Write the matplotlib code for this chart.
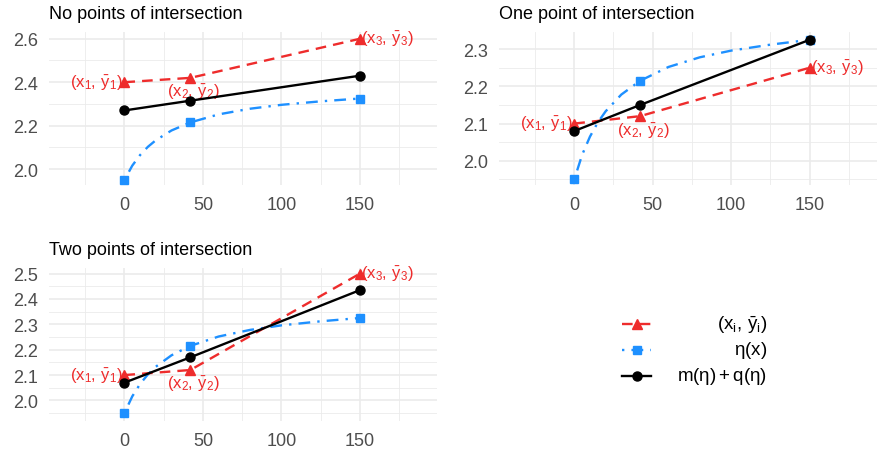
'''three panels: observed means vs eta(x) vs fitted m + q
'''
import matplotlib
matplotlib.use('Agg')
import matplotlib.pyplot as plt

plt.rcParams['font.family'] = ['Liberation Sans', 'DejaVu Sans']
plt.rcParams['mathtext.fontset'] = 'custom'
plt.rcParams['mathtext.rm'] = 'Liberation Sans'
plt.rcParams['mathtext.it'] = 'Liberation Sans'
plt.rcParams['mathtext.default'] = 'regular'

# data
x_obs = [0, 42, 150]
titles = ['No points of intersection', 'One point of intersection', 'Two points of intersection']
ybar = [[2.40, 2.42, 2.60], [2.10, 2.12, 2.25], [2.10, 2.12, 2.50]]
fit = [[2.27, 2.315, 2.43], [2.08, 2.15, 2.325], [2.07, 2.17, 2.435]]
eta_obs = [1.950, 2.215, 2.325]
eta_x = [0, 5, 10, 15, 20, 30, 42, 60, 80, 100, 125, 150]
eta_y = [1.950, 2.016, 2.065, 2.103, 2.133, 2.178, 2.215, 2.252, 2.278, 2.296, 2.312, 2.325]
point_labels = [r'$(x_1,\,\bar{y}_1)$', r'$(x_2,\,\bar{y}_2)$', r'$(x_3,\,\bar{y}_3)$']
legend_labels = [r'$(x_i,\,\bar{y}_i)$', r'$\eta(x)$', r'$m(\eta) + q(\eta)$']

red = '#EE2C2C'
blue = '#1E90FF'
lw = 1.7
red_ls = (0, (4.5, 3))
blue_ls = (0, (1, 3, 5, 3))

W, H = 881, 456
boxes = [(49, 437, 33, 186), (499, 877, 33, 186), (49, 437, 269, 422)]
xlims = [(-48, 199), (-48, 193), (-48, 199)]
ylims = [(1.927, 2.631), (1.935, 2.346), (1.919, 2.522)]
yticks = [[2.0, 2.2, 2.4, 2.6], [2.0, 2.1, 2.2, 2.3], [2.0, 2.1, 2.2, 2.3, 2.4, 2.5]]
yminor = [[2.1, 2.3, 2.5], [1.95, 2.05, 2.15, 2.25], [1.95, 2.05, 2.15, 2.25, 2.35, 2.45]]

fig = plt.figure(figsize=(W / 100, H / 100), dpi=100)

for i in range(3):
    l, r, t, b = boxes[i]
    ax = fig.add_axes([l / W, 1 - b / H, (r - l) / W, (b - t) / H])
    ax.set_xlim(*xlims[i])
    ax.set_ylim(*ylims[i])
    for s in ax.spines.values():
        s.set_visible(False)
    ax.set_xticks([0, 50, 100, 150])
    ax.set_xticks([-25, 25, 75, 125, 175], minor=True)
    ax.set_yticks(yticks[i])
    ax.set_yticks(yminor[i], minor=True)
    ax.set_yticklabels(['%.1f' % v for v in yticks[i]])
    ax.grid(which='major', color='#EBEBEB', linewidth=1.2, zorder=0)
    ax.grid(which='minor', color='#EBEBEB', linewidth=0.6, zorder=0)
    ax.set_axisbelow(True)
    ax.tick_params(which='both', length=0, labelsize=13, labelcolor='#4D4D4D', pad=8)
    ax.set_title(titles[i], loc='left', fontsize=13, pad=10)

    ax.plot(eta_x, eta_y, color=blue, linewidth=lw, linestyle=blue_ls, zorder=2)
    ax.plot(x_obs, eta_obs, linestyle='none', marker='s', markersize=6, color=blue, zorder=2)
    ax.plot(x_obs, ybar[i], color=red, linewidth=lw, linestyle=red_ls,
            marker='^', markersize=7, zorder=3)
    ax.annotate(point_labels[0], (x_obs[0], ybar[i][0]), xytext=(-1, 0), textcoords='offset points',
                ha='right', va='center', color=red, fontsize=12, zorder=3)
    ax.annotate(point_labels[1], (x_obs[1], ybar[i][1]), xytext=(2, -10), textcoords='offset points',
                ha='center', va='center', color=red, fontsize=12, zorder=3)
    ax.annotate(point_labels[2], (x_obs[2], ybar[i][2]), xytext=(1, 0), textcoords='offset points',
                ha='left', va='center', color=red, fontsize=12, zorder=3)
    ax.plot(x_obs, fit[i], color='black', linewidth=lw, marker='o', markersize=6.5, zorder=4)

# hand-made legend in the empty bottom-right corner
lax = fig.add_axes([0, 0, 1, 1])
lax.set_xlim(0, W)
lax.set_ylim(H, 0)
lax.axis('off')
styles = [dict(color=red, linestyle=red_ls, marker='^', markersize=7),
          dict(color=blue, linestyle=blue_ls, marker='s', markersize=6),
          dict(color='black', linestyle='-', marker='o', markersize=6.5)]
for k in range(3):
    yy = 325 + 26 * k
    lax.plot([622, 636.5, 651], [yy, yy, yy], linewidth=lw, markevery=[1], **styles[k])
    lax.text(767, yy, legend_labels[k], ha='right', va='center', fontsize=13.5)

fig.savefig('out.png', dpi=100)
